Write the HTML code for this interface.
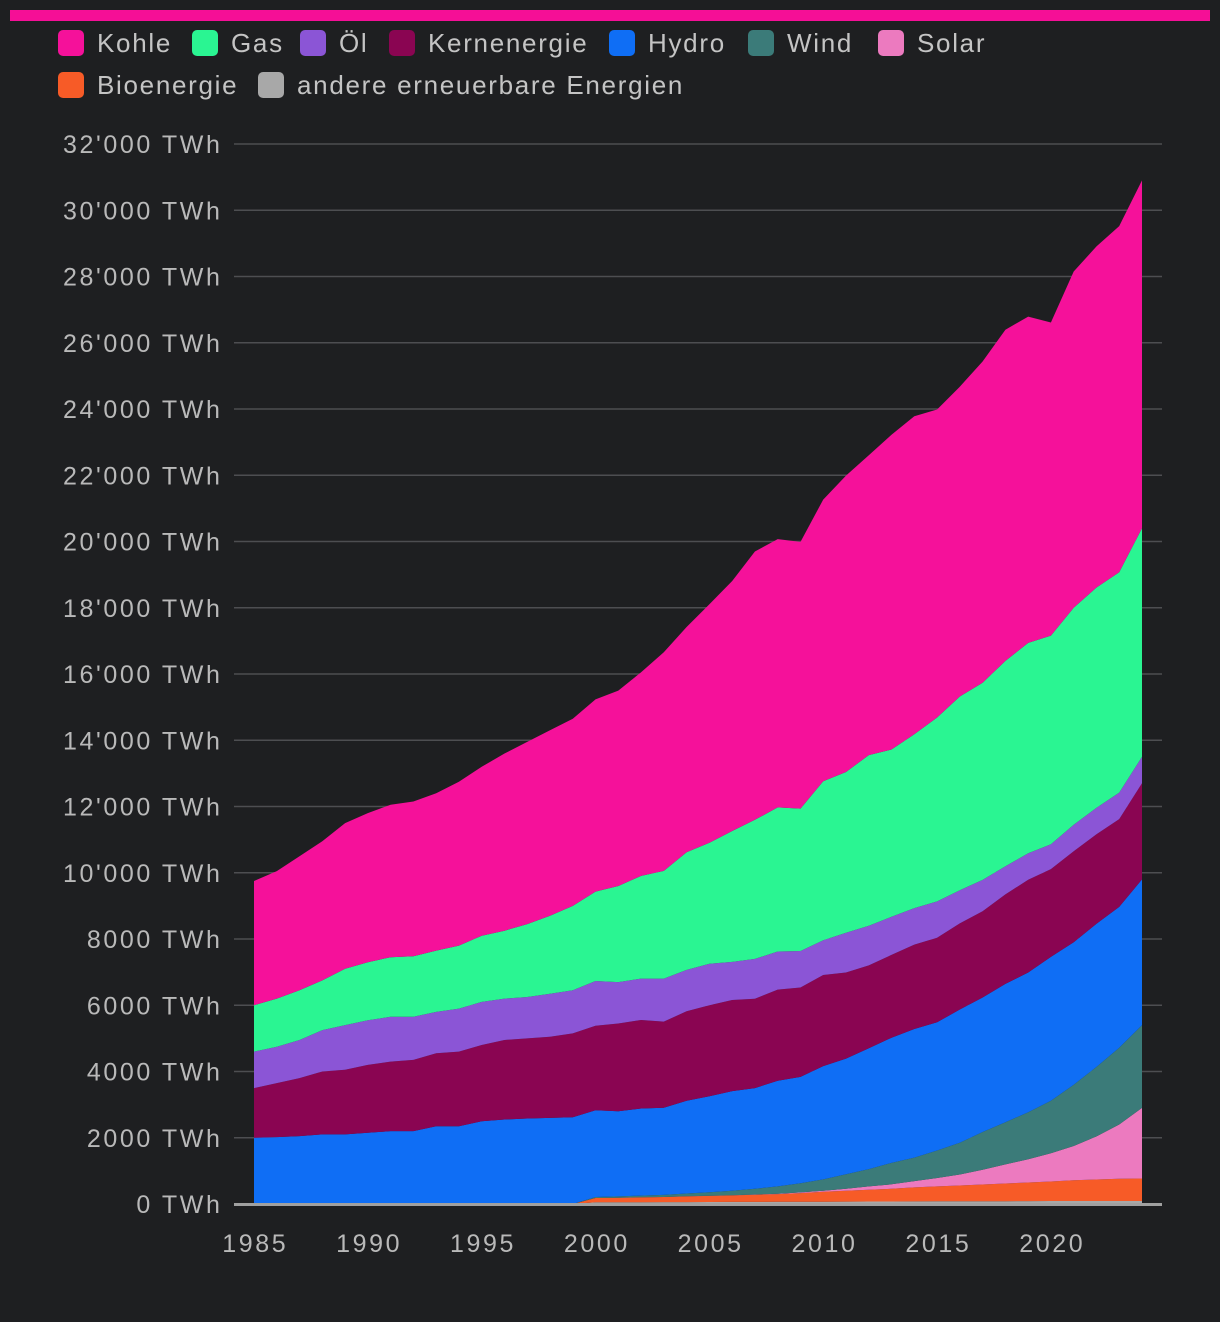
<!DOCTYPE html>
<html><head><meta charset="utf-8"><style>
html,body{margin:0;padding:0;background:#1e1f21;}
svg{display:block;font-family:"Liberation Sans",sans-serif;}
</style></head><body>
<svg id="chart" width="1220" height="1322" viewBox="0 0 1220 1322" xmlns="http://www.w3.org/2000/svg">
<rect x="0" y="0" width="1220" height="1322" fill="#1e1f21"/>
<rect x="10" y="10" width="1200" height="11" fill="#f50f96"/>
<g id="legend"></g>
<g id="grid"></g>
<g id="areas"></g>
<g id="axes"></g>
</svg>
<script>
const years = [];
for (let y = 1985; y <= 2024; y++) years.push(y);
const seriesNames = ["andere erneuerbare Energien","Bioenergie","Solar","Wind","Hydro","Kernenergie","Öl","Gas","Kohle"];
const other = [0,0,0,0,0,0,0,0,0,0,0,0,0,0,0,50,52,54,56,58,60,62,64,66,68,70,72,74,76,78,80,82,84,86,88,90,90,90,90,90];
const bio = [0,0,0,0,0,0,0,0,0,0,0,0,0,0,0,130,138,146,154,172,185,198,216,234,262,300,328,356,384,422,450,478,506,534,562,590,630,650,670,680];
const solar = [0,0,0,0,0,0,0,0,0,0,0,0,0,0,0,1,1,2,2,3,4,6,8,12,20,32,63,100,135,190,255,330,445,575,700,850,1030,1300,1640,2130];
const wind = [0,0,0,0,0,0,0,0,0,0,0,0,0,0,0,31,38,52,63,85,104,133,171,220,277,342,437,523,646,712,831,962,1140,1270,1420,1590,1850,2100,2320,2500];
const hydro = [2000,2020,2050,2100,2100,2150,2200,2200,2350,2350,2500,2550,2580,2600,2620,2620,2570,2630,2630,2800,2900,3010,3040,3190,3210,3420,3490,3650,3780,3880,3870,4020,4060,4180,4220,4340,4300,4320,4250,4400];
const nuclear = [1500,1630,1750,1900,1950,2050,2100,2150,2200,2250,2300,2400,2420,2450,2530,2550,2650,2670,2600,2700,2750,2750,2700,2750,2700,2750,2600,2500,2500,2550,2550,2600,2600,2700,2800,2650,2750,2700,2650,2900];
const oil = [1100,1100,1150,1250,1350,1350,1350,1300,1250,1300,1300,1250,1250,1300,1300,1350,1250,1250,1300,1250,1250,1150,1200,1150,1100,1050,1200,1200,1150,1100,1100,1000,950,850,800,750,800,800,800,800];
const gas = [1400,1450,1500,1500,1700,1750,1800,1830,1850,1900,2000,2050,2200,2350,2550,2700,2900,3100,3250,3550,3650,3950,4200,4350,4300,4800,4850,5150,5050,5250,5550,5850,5950,6200,6350,6300,6550,6650,6650,6900];
const coal = [3750,3850,4050,4200,4400,4500,4600,4670,4750,4950,5100,5350,5500,5600,5650,5800,5900,6150,6600,6800,7200,7550,8100,8100,8050,8500,8950,9050,9500,9600,9300,9350,9700,10000,9850,9450,10150,10300,10450,10500];
const yTicks = [0,2000,4000,6000,8000,10000,12000,14000,16000,18000,20000,22000,24000,26000,28000,30000,32000];
const yTickLabels = ["0 TWh","2000 TWh","4000 TWh","6000 TWh","8000 TWh","10'000 TWh","12'000 TWh","14'000 TWh","16'000 TWh","18'000 TWh","20'000 TWh","22'000 TWh","24'000 TWh","26'000 TWh","28'000 TWh","30'000 TWh","32'000 TWh"];
const xTicks = [1985,1990,1995,2000,2005,2010,2015,2020];

const NS = "http://www.w3.org/2000/svg";
const colors = {"Kohle":"#f5119a","Gas":"#2af592","Öl":"#8b55d6","Kernenergie":"#8a0552","Hydro":"#0f6ef5","Wind":"#3b7b79","Solar":"#ec7abf","Bioenergie":"#f75b27","andere erneuerbare Energien":"#a8a8a8"};
const seriesData = [other,bio,solar,wind,hydro,nuclear,oil,gas,coal];
const X0 = 254, X1 = 1142, Y0 = 1204, Y1 = 144;
function xs(yr){ return X0 + (yr - 1985) * (X1 - X0) / (2024 - 1985); }
function ys(v){ return Y0 - v * (Y0 - Y1) / 32000; }
function mk(tag, attrs, parent){ const e = document.createElementNS(NS, tag); for (const k in attrs) e.setAttribute(k, attrs[k]); parent.appendChild(e); return e; }

const grid = document.getElementById("grid");
yTicks.forEach((t, i) => {
  const l = mk("line", {x1:234, x2:1162, y1:ys(t), y2:ys(t), stroke:"#4d4e51", "stroke-width":1.5}, grid);
  
  
  const tx = mk("text", {x:222.5, y:ys(t)+9, "text-anchor":"end", fill:"#b9b9b9", "font-size":25, "letter-spacing":2.6}, grid);
  tx.textContent = yTickLabels[i];
  
  
});

const areas = document.getElementById("areas");
let base = years.map(() => 0);
seriesData.forEach((arr, si) => {
  const top = base.map((b, i) => b + arr[i]);
  let d = "M" + years.map((y, i) => xs(y).toFixed(1) + "," + ys(top[i]).toFixed(1)).join("L");
  for (let i = years.length - 1; i >= 0; i--) d += "L" + xs(years[i]).toFixed(1) + "," + ys(base[i]).toFixed(1);
  d += "Z";
  const p = mk("path", {d:d, fill:colors[seriesNames[si]]}, areas);
  
  
  base = top;
});

const axes = document.getElementById("axes");
const bl = mk("line", {x1:234, x2:1162, y1:Y0+0.5, y2:Y0+0.5, stroke:"#a0a0a0", "stroke-width":3}, axes);


xTicks.forEach(t => {
  const tx = mk("text", {x:xs(t)+1.3, y:1252, "text-anchor":"middle", fill:"#b9b9b9", "font-size":25, "letter-spacing":2.6}, axes);
  tx.textContent = t;
  
  
});

const legend = document.getElementById("legend");
const legendItems = [["Kohle",58,43],["Gas",192,43],["Öl",300,43],["Kernenergie",389,43],["Hydro",609,43],["Wind",748,43],["Solar",878,43],["Bioenergie",58,85],["andere erneuerbare Energien",258,85]];
legendItems.forEach(it => {
  const g = mk("g", {}, legend);
  
  
  mk("rect", {x:it[1], y:it[2]-13, width:26, height:26, rx:5, fill:colors[it[0]]}, g);
  const tx = mk("text", {x:it[1]+39, y:it[2]+9, fill:"#c4c4c4", "font-size":26, "letter-spacing":1.7}, g);
  tx.textContent = it[0];
});
</script>
</body></html>
